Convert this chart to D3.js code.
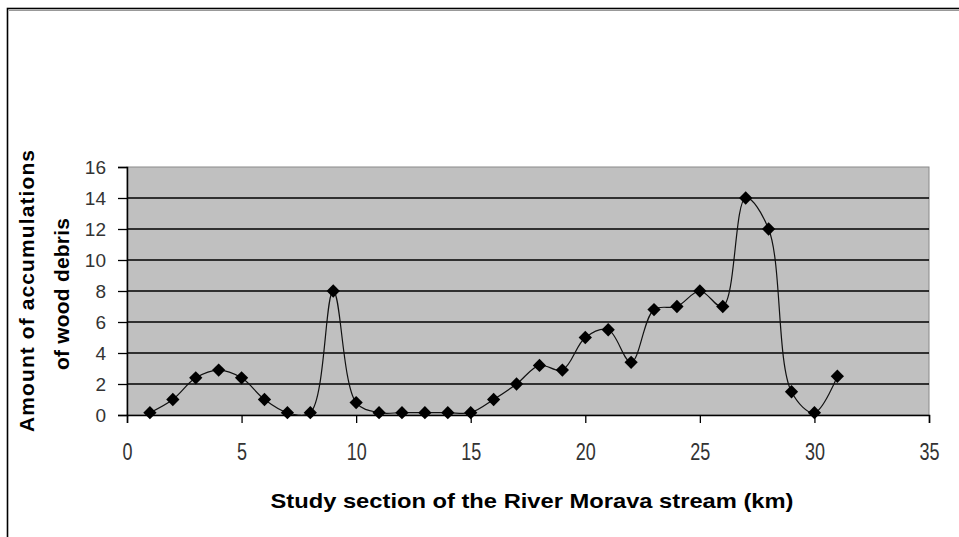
<!DOCTYPE html>
<html>
<head>
<meta charset="utf-8">
<script src="https://cdn.jsdelivr.net/npm/d3@7"></script>
<style>
  html, body { margin: 0; padding: 0; background: #fff; }
  svg { display: block; }
</style>
</head>
<body>
<svg id="chart" width="959" height="537"></svg>
<script>
// Data
const sections = [1,2,3,4,5,6,7,8,9,10,11,12,13,14,15,16,17,18,19,20,21,22,23,24,25,26,27,28,29,30,31];
const accumulations = [0.15,1,2.4,2.9,2.4,1,0.15,0.15,8,0.8,0.15,0.15,0.15,0.15,0.15,1,2,3.2,2.9,5,5.5,3.4,6.8,7,8,7,14,12,1.5,0.15,2.5];
const xTicks = [0,5,10,15,20,25,30,35];
const yTicks = [0,2,4,6,8,10,12,14,16];
const xTitle = "Study section of the River Morava stream (km)";
const yTitleLines = ["Amount of accumulations", "of wood debris"];

const svg = d3.select("#chart");
const pLeft = 127, pRight = 929, pTop = 167, pBottom = 415;

const x = d3.scaleLinear().domain([0, 35]).range([pLeft, pRight]);
const y = d3.scaleLinear().domain([0, 16]).range([pBottom, pTop]);

// outer chart border (only top/left visible in frame)
svg.append("rect")
  .attr("x", 7.5).attr("y", 8.5).attr("width", 1200).attr("height", 1200)
  .attr("fill", "none").attr("stroke", "#000").attr("stroke-width", 1.6);
svg.append("line").attr("x1", 9).attr("x2", 959).attr("y1", 10.5).attr("y2", 10.5)
  .attr("stroke", "#999").attr("stroke-width", 1);

// plot background
svg.append("rect")
  .attr("x", pLeft).attr("y", pTop)
  .attr("width", pRight - pLeft).attr("height", pBottom - pTop)
  .attr("fill", "#c0c0c0").attr("stroke", "#8a8a8a").attr("stroke-width", 1);

// gridlines
svg.append("g").selectAll("line")
  .data(yTicks.filter(d => d > 0 && d < 16))
  .join("line")
  .attr("x1", pLeft).attr("x2", pRight)
  .attr("y1", d => y(d)).attr("y2", d => y(d))
  .attr("stroke", "#000").attr("stroke-width", 1.7);

// y axis
const yAxis = svg.append("g")
  .attr("transform", `translate(${pLeft},0)`)
  .call(d3.axisLeft(y).tickValues(yTicks).tickSize(9).tickPadding(12).tickFormat(d3.format("d")));
yAxis.select(".domain").attr("stroke", "#000").attr("stroke-width", 1.5);
yAxis.selectAll(".tick line").attr("stroke", "#000").attr("stroke-width", 1.3);
yAxis.selectAll(".tick text")
  .attr("font-family", "Arial, 'Liberation Sans', sans-serif")
  .attr("font-size", 19).attr("fill", "#333").attr("x", -21);

// x axis
const xAxis = svg.append("g")
  .attr("transform", `translate(0,${pBottom})`)
  .call(d3.axisBottom(x).tickValues(xTicks).tickSize(8).tickPadding(0).tickFormat(d3.format("d")));
xAxis.select(".domain").attr("stroke", "#000").attr("stroke-width", 1.5);
xAxis.selectAll(".tick line").attr("stroke", "#000").attr("stroke-width", 1.3);
xAxis.selectAll(".tick text")
  .attr("font-family", "Arial, 'Liberation Sans', sans-serif")
  .attr("font-size", 18).attr("fill", "#333")
  .attr("y", 0).attr("dy", null)
  .attr("transform", "translate(0,45) scale(1,1.35)");

// line
const pts = sections.map((s, i) => [s, accumulations[i]]);
const line = d3.line()
  .x(d => x(d[0])).y(d => y(d[1]))
  .curve(d3.curveCatmullRom.alpha(0.5));
svg.append("path")
  .datum(pts)
  .attr("d", line)
  .attr("fill", "none").attr("stroke", "#111").attr("stroke-width", 1.2);

// markers
const sym = d3.symbol().type(d3.symbolSquare).size(88);
svg.append("g").selectAll("path")
  .data(pts)
  .join("path")
  .attr("d", sym)
  .attr("transform", d => `translate(${x(d[0])},${y(d[1])}) rotate(45)`)
  .attr("fill", "#000");

// x title
svg.append("text")
  .attr("x", 532).attr("y", 508)
  .attr("text-anchor", "middle")
  .attr("font-family", "Arial, 'Liberation Sans', sans-serif")
  .attr("font-weight", "bold").attr("font-size", 21)
  .attr("textLength", 523).attr("lengthAdjust", "spacingAndGlyphs")
  .attr("fill", "#000")
  .text(xTitle);

// y title
const yCenters = [26, 61];
const yLens = [282, 152];
const yMids = [291, 294];
yTitleLines.forEach((t, i) => {
  svg.append("text")
    .attr("transform", `translate(${yCenters[i] + 8},${yMids[i]}) rotate(-90)`)
    .attr("text-anchor", "middle")
    .attr("font-family", "Arial, 'Liberation Sans', sans-serif")
    .attr("font-weight", "bold").attr("font-size", 21)
    .attr("textLength", yLens[i]).attr("lengthAdjust", "spacing")
    .attr("fill", "#000")
    .text(t);
});
</script>
</body>
</html>
